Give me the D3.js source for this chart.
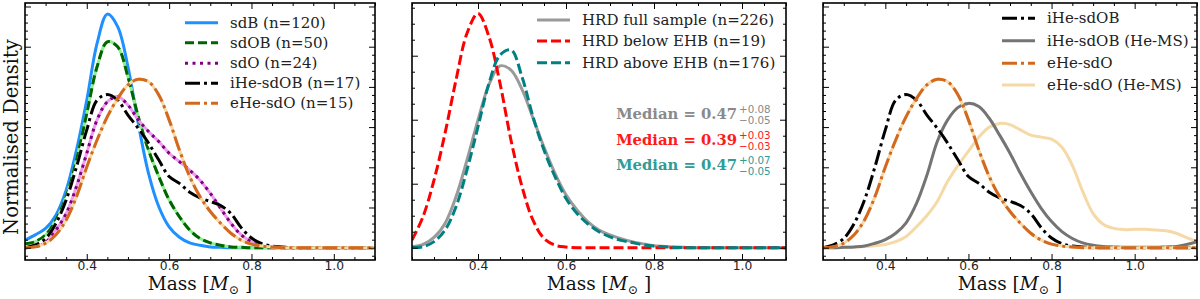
<!DOCTYPE html>
<html><head><meta charset="utf-8">
<script src="https://cdn.jsdelivr.net/npm/d3@7"></script>
<style>body{margin:0;background:#fff;} svg{display:block;}</style>
</head><body>
<svg id="c" width="1200" height="299"></svg>
<script>
// Mass grid (Msun)
const mass = [0.25,0.275,0.3,0.325,0.35,0.375,0.4,0.425,0.45,0.475,0.5,0.525,0.55,0.575,0.6,0.625,0.65,0.675,0.7,0.725,0.75,0.775,0.8,0.825,0.85,0.875,0.9,0.925,0.95,0.975,1.0,1.025,1.05,1.075,1.1,1.125,1.15];

// Left panel
const sdB   = [0.19,0.32,0.48,0.81,1.43,2.43,3.67,5.08,5.81,5.5,4.5,3.09,1.85,1.02,0.52,0.26,0.12,0.06,0.02,0.01,0,0,0,0,0,0,0,0,0,0,0,0,0,0,0,0,0];
const sdOB  = [0.1,0.15,0.32,0.69,1.27,2.18,3.34,4.5,5.12,5.0,4.25,3.26,2.43,1.77,1.19,0.77,0.44,0.23,0.12,0.06,0.02,0.01,0,0,0,0,0,0,0,0,0,0,0,0,0,0,0];
const sdO   = [0,0.04,0.19,0.44,0.85,1.52,2.35,3.18,3.63,3.76,3.55,3.18,2.89,2.64,2.35,2.14,1.93,1.68,1.35,0.98,0.61,0.32,0.15,0.06,0.02,0,0,0,0,0,0,0,0,0,0,0,0];
const iHe   = [0,0.07,0.23,0.6,1.19,2.01,2.93,3.67,3.81,3.67,3.3,2.97,2.6,2.18,1.77,1.6,1.38,1.24,1.15,1.05,0.85,0.5,0.24,0.1,0.04,0.02,0,0,0,0,0,0,0,0,0,0,0];
const eHe   = [0,0.02,0.11,0.32,0.69,1.27,2.01,2.68,3.26,3.71,4.05,4.19,4.13,3.8,3.18,2.43,1.77,1.27,0.9,0.61,0.36,0.19,0.09,0.04,0.02,0,0,0,0,0,0,0,0,0,0,0,0];
// Right panel (He-MS)
const iHeMS = [0,0,0.01,0.02,0.04,0.11,0.2,0.36,0.62,1.1,1.8,2.64,3.18,3.49,3.59,3.51,3.22,2.8,2.35,1.85,1.39,0.98,0.65,0.4,0.23,0.12,0.06,0.03,0.02,0.01,0.01,0.01,0.01,0.02,0.03,0.08,0.15];
const eHeMS = [0,0,0.01,0.02,0.03,0.05,0.08,0.15,0.28,0.52,0.8,1.15,1.65,2.05,2.4,2.75,3.0,3.09,3.06,2.93,2.8,2.75,2.7,2.5,2.05,1.4,0.85,0.58,0.48,0.45,0.46,0.46,0.44,0.42,0.36,0.25,0.15];
// Middle panel
const hrdFull  = [0.03,0.1,0.32,0.76,1.59,2.74,3.99,5.1,5.68,5.55,4.95,4.05,3.14,2.32,1.65,1.18,0.81,0.55,0.4,0.28,0.19,0.12,0.06,0.04,0.02,0.01,0,0,0,0,0,0,0,0,0,0,0];
const hrdBelow = [0.24,0.97,2.11,3.57,5.24,6.7,7.32,6.59,5.14,3.36,1.91,0.86,0.29,0.08,0.02,0,0,0,0,0,0,0,0,0,0,0,0,0,0,0,0,0,0,0,0,0,0];
const hrdAbove = [0.01,0.03,0.19,0.55,1.28,2.43,3.78,5.14,6.02,6.18,5.34,4.09,3.05,2.22,1.54,1.07,0.74,0.5,0.34,0.23,0.16,0.09,0.05,0.03,0.01,0,0,0,0,0,0,0,0,0,0,0,0];

const leftLabels  = ["sdB (n=120)","sdOB (n=50)","sdO (n=24)","iHe-sdOB (n=17)","eHe-sdO (n=15)"];
const midLabels   = ["HRD full sample (n=226)","HRD below EHB (n=19)","HRD above EHB (n=176)"];
const rightLabels = ["iHe-sdOB","iHe-sdOB (He-MS)","eHe-sdO","eHe-sdO (He-MS)"];
const medians = [{v:"0.47",p:"+0.08",m:"\u22120.05"},{v:"0.39",p:"+0.03",m:"\u22120.03"},{v:"0.47",p:"+0.07",m:"\u22120.05"}];
const xTickVals = [0.4,0.6,0.8,1.0];

const svg = d3.select("#c");
const ST = {
  sdB:  {stroke:"#1E90FF"},
  sdOB: {stroke:"#006400", dash:"9,4", under:"#90EE90"},
  sdO:  {stroke:"#800080", dash:"3,4.5", under:"#EE9BEE"},
  iHe:  {stroke:"#000000", dash:"15,4,3,4", under:"#ffffff"},
  eHe:  {stroke:"#D2691E", dash:"15,4,3,4", under:"#F5D9A6"},
  iHeMS:{stroke:"#747474"},
  eHeMS:{stroke:"#F5D9A6"},
  full: {stroke:"#9a9a9a"},
  below:{stroke:"#FF0000", dash:"10,4"},
  above:{stroke:"#008080", dash:"10,4"}
};
const LW = 3;

function panel(cfg){
  const g = svg.append("g");
  const x = d3.scaleLinear().domain(cfg.xd).range([cfg.x0, cfg.x1]);
  const y = d3.scaleLinear().domain(cfg.yd).range([260, 3]);
  const id = "clip"+cfg.x0;
  svg.append("defs").append("clipPath").attr("id", id).append("rect")
    .attr("x", cfg.x0).attr("y", 3).attr("width", cfg.x1-cfg.x0).attr("height", 257);
  const line = d3.line().x((d,i)=>x(mass[i])).y(d=>y(Math.max(0,d))).curve(d3.curveCatmullRom.alpha(0.5));
  const pg = g.append("g").attr("clip-path", `url(#${id})`);
  cfg.series.forEach(s=>{
    const st = ST[s.k];
    if (st.under) pg.append("path").attr("d", line(s.v)).attr("fill","none")
        .attr("stroke", st.under).attr("stroke-width", LW);
    pg.append("path").attr("d", line(s.v)).attr("fill","none")
      .attr("stroke", st.stroke).attr("stroke-width", LW)
      .attr("stroke-dasharray", st.dash || null);
  });
  // axes
  const xMinor = d3.range(0.25, cfg.xd[1]+0.001, 0.05).filter(v=>!xTickVals.some(t=>Math.abs(t-v)<1e-6));
  const yMaj = d3.range(0, cfg.yd[1], cfg.ymaj);
  const yMin = d3.range(Math.ceil(cfg.yd[0]/cfg.ymin)*cfg.ymin, cfg.yd[1], cfg.ymin).filter(v=>Math.abs(v/cfg.ymaj-Math.round(v/cfg.ymaj))>1e-6);
  const bx = g.append("g").attr("transform","translate(0,260)")
    .call(d3.axisBottom(x).tickValues(xTickVals).tickSize(-6).tickPadding(1).tickFormat(d3.format(".1f")));
  bx.selectAll("text").attr("font-family","DejaVu Sans").attr("font-size",12.3).attr("fill","#222");
  g.append("g").attr("transform","translate(0,260)").call(d3.axisBottom(x).tickValues(xMinor).tickSize(-3).tickFormat(""));
  g.append("g").attr("transform","translate(0,3)").call(d3.axisTop(x).tickValues(xTickVals).tickSize(-6).tickFormat(""));
  g.append("g").attr("transform","translate(0,3)").call(d3.axisTop(x).tickValues(xMinor).tickSize(-3).tickFormat(""));
  g.append("g").attr("transform",`translate(${cfg.x0},0)`).call(d3.axisLeft(y).tickValues(yMaj).tickSize(-6).tickFormat(""));
  g.append("g").attr("transform",`translate(${cfg.x0},0)`).call(d3.axisLeft(y).tickValues(yMin).tickSize(-3).tickFormat(""));
  g.append("g").attr("transform",`translate(${cfg.x1},0)`).call(d3.axisRight(y).tickValues(yMaj).tickSize(-6).tickFormat(""));
  g.append("g").attr("transform",`translate(${cfg.x1},0)`).call(d3.axisRight(y).tickValues(yMin).tickSize(-3).tickFormat(""));
  g.selectAll(".domain").remove();
  g.selectAll(".tick line").attr("stroke","#000").attr("stroke-width",1);
  g.append("rect").attr("x",cfg.x0).attr("y",3).attr("width",cfg.x1-cfg.x0).attr("height",257)
    .attr("fill","none").attr("stroke","#000").attr("stroke-width",1.6);
  // x label
  const t = g.append("text").attr("x",(cfg.x0+cfg.x1)/2).attr("y",290).attr("text-anchor","middle")
    .attr("font-family","DejaVu Serif").attr("font-size",18.5).attr("fill","#111");
  t.append("tspan").text("Mass [");
  t.append("tspan").attr("font-style","italic").text("M");
  t.append("tspan").attr("font-size",12.5).attr("dy",4).text("\u2299");
  t.append("tspan").attr("dy",-4).text(" ]");
  // legend
  cfg.legend.forEach((lab,i)=>{
    const st = ST[cfg.series[cfg.legendIdx[i]].k];
    const yy = cfg.ly[i];
    g.append("line").attr("x1",cfg.lx).attr("x2",cfg.lx+33).attr("y1",yy).attr("y2",yy)
      .attr("stroke",st.stroke).attr("stroke-width",LW).attr("stroke-dasharray",st.dash||null);
    g.append("text").attr("x",cfg.lx+45).attr("y",yy+5).attr("font-family","DejaVu Serif")
      .attr("font-size",15).attr("fill","#222").text(lab);
  });
  return {g,x,y};
}

panel({x0:25,x1:375,xd:[0.25,1.1],yd:[-0.306,6.087],ymaj:1,ymin:0.2,
  series:[{k:"sdB",v:sdB},{k:"sdOB",v:sdOB},{k:"sdO",v:sdO},{k:"iHe",v:iHe},{k:"eHe",v:eHe}],
  legend:leftLabels,legendIdx:[0,1,2,3,4],lx:185,ly:[22.7,42.7,63.3,83.3,103.3]});

const mid = panel({x0:412,x1:786,xd:[0.25,1.1],yd:[-0.384,7.647],ymaj:2,ymin:0.5,
  series:[{k:"full",v:hrdFull},{k:"below",v:hrdBelow},{k:"above",v:hrdAbove}],
  legend:midLabels,legendIdx:[0,1,2],lx:537,ly:[20,41,62.7]});

panel({x0:823,x1:1197,xd:[0.25,1.15],yd:[-0.306,6.087],ymaj:1,ymin:0.2,
  series:[{k:"eHeMS",v:eHeMS},{k:"iHeMS",v:iHeMS},{k:"iHe",v:iHe},{k:"eHe",v:eHe}],
  legend:rightLabels,legendIdx:[2,1,3,0],lx:1002,ly:[18.3,40.7,63.3,85]});

// y label
svg.append("text").attr("transform","translate(18,137) rotate(-90)").attr("text-anchor","middle")
  .attr("font-family","DejaVu Serif").attr("font-size",19.5).attr("fill","#111").text("Normalised Density");

// Median annotations
const medCols = ["#8a8a8a","#ff1a1a","#2e9c97"];
const medY = [119.3,145,170];
medians.forEach((m,i)=>{
  mid.g.append("text").attr("x",737).attr("y",medY[i]).attr("text-anchor","end")
    .attr("font-family","DejaVu Serif").attr("font-weight","bold").attr("font-size",14.8)
    .attr("fill",medCols[i]).text("Median = "+m.v);
  mid.g.append("text").attr("x",739).attr("y",medY[i]-6.5).attr("font-family","DejaVu Sans")
    .attr("font-size",10.3).attr("fill",medCols[i]).text(m.p);
  mid.g.append("text").attr("x",739).attr("y",medY[i]+5).attr("font-family","DejaVu Sans")
    .attr("font-size",10.3).attr("fill",medCols[i]).text(m.m);
});
</script>
</body></html>
